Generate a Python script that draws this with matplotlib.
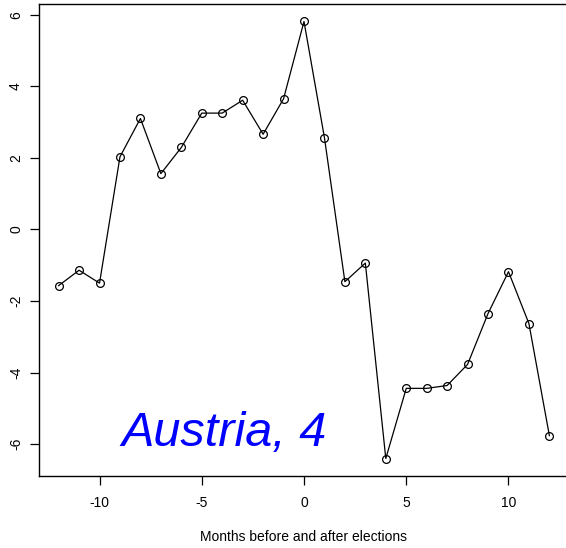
import numpy as np
import matplotlib
matplotlib.use('Agg')
import matplotlib.pyplot as plt

plt.rcParams['font.family'] = ['Liberation Sans', 'DejaVu Sans']
plt.rcParams['axes.unicode_minus'] = False

months = list(range(-12, 13))
values = [-1.57, -1.14, -1.50, 2.03, 3.10, 1.56, 2.29, 3.25, 3.25, 3.61, 2.66, 3.65,
          5.81, 2.56, -1.46, -0.94, -6.40, -4.44, -4.44, -4.36, -3.77, -2.35, -1.18,
          -2.63, -5.76]
xticks = [-10, -5, 0, 5, 10]
yticks = [-6, -4, -2, 0, 2, 4, 6]
country = 'Austria, 4'

W, H = 566, 548
fig = plt.figure(figsize=(W / 100, H / 100), dpi=100)
ax = fig.add_axes([39 / W, (H - 476) / H, (569 - 39) / W, (476 - 4) / H])

ax.plot(months, values, color='black', linewidth=0.9, marker='o', markersize=5.6,
        markerfacecolor='none', markeredgecolor='black', markeredgewidth=0.9)

# R style padding: 4% either side of the data range
xr = max(months) - min(months)
ax.set_xlim(min(months) - 0.04 * xr, max(months) + 0.04 * xr)
yr = max(values) - min(values)
ax.set_ylim(min(values) - 0.04 * yr, max(values) + 0.04 * yr)

ax.set_xticks(xticks)
ax.set_yticks(yticks)
ax.set_yticklabels([str(v) for v in yticks], rotation=90, va='center')
ax.tick_params(axis='both', length=6.5, width=0.9, labelsize=10, color='black')
ax.tick_params(axis='x', pad=8)
ax.tick_params(axis='y', pad=5)
for s in ax.spines.values():
    s.set_linewidth(1.0)
ax.spines['right'].set_visible(False)

ax.set_xlabel('Months before and after elections', fontsize=10, labelpad=14)

ax.text(-8.95, -6.04, country, color='blue', fontsize=35, fontstyle='italic',
        ha='left', va='baseline')

fig.savefig('out.png', dpi=100)
